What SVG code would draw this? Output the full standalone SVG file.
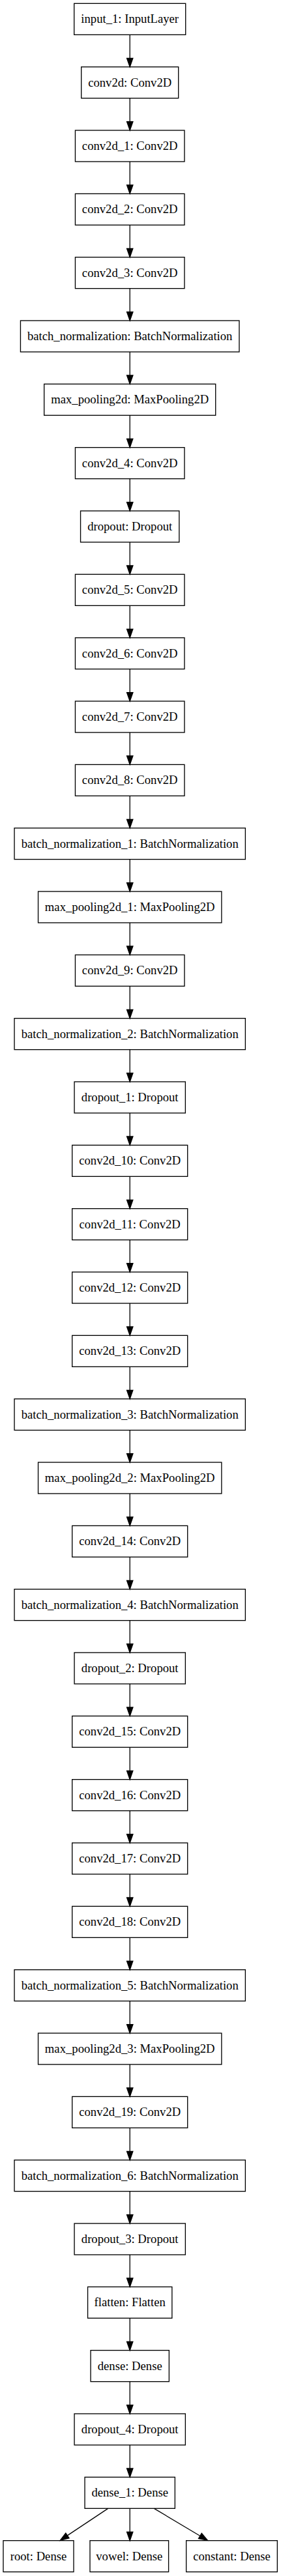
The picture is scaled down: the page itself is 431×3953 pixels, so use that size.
<svg xmlns="http://www.w3.org/2000/svg" width="431" height="3953" viewBox="0 0 431 3953">
<style>
.n rect{fill:#fff;stroke:#000;stroke-width:1.33}
.n text{font-family:"Liberation Serif","Times New Roman",serif;font-size:18.67px;text-anchor:middle;fill:#000}
#edges line{stroke:#000;stroke-width:1.33;marker-end:url(#ah)}
</style>
<defs>
<marker id="ah" markerUnits="userSpaceOnUse" viewBox="0 0 13.33 9.33" refX="0" refY="4.67" markerWidth="13.33" markerHeight="9.33" orient="auto" overflow="visible">
<path d="M0,0 L13.33,4.67 L0,9.33 z" fill="#000" stroke="#000" stroke-width="1.33"/>
</marker>
</defs>
<rect width="431" height="3953" fill="#fff"/>
<g id="n0" class="n"><rect x="113.7" y="5.33" width="171" height="48"/><text x="199.2" y="35.33">input_1: InputLayer</text></g>
<g id="n1" class="n"><rect x="124.7" y="102.67" width="149" height="48"/><text x="199.2" y="132.67">conv2d: Conv2D</text></g>
<g id="n2" class="n"><rect x="115.45" y="200" width="167.5" height="48"/><text x="199.2" y="230">conv2d_1: Conv2D</text></g>
<g id="n3" class="n"><rect x="115.45" y="297.33" width="167.5" height="48"/><text x="199.2" y="327.33">conv2d_2: Conv2D</text></g>
<g id="n4" class="n"><rect x="115.45" y="394.67" width="167.5" height="48"/><text x="199.2" y="424.67">conv2d_3: Conv2D</text></g>
<g id="n5" class="n"><rect x="31.45" y="492" width="335.5" height="48"/><text x="199.2" y="522">batch_normalization: BatchNormalization</text></g>
<g id="n6" class="n"><rect x="67.7" y="589.33" width="263" height="48"/><text x="199.2" y="619.33">max_pooling2d: MaxPooling2D</text></g>
<g id="n7" class="n"><rect x="115.45" y="686.67" width="167.5" height="48"/><text x="199.2" y="716.67">conv2d_4: Conv2D</text></g>
<g id="n8" class="n"><rect x="123.55" y="784" width="151.3" height="48"/><text x="199.2" y="814">dropout: Dropout</text></g>
<g id="n9" class="n"><rect x="115.45" y="881.33" width="167.5" height="48"/><text x="199.2" y="911.33">conv2d_5: Conv2D</text></g>
<g id="n10" class="n"><rect x="115.45" y="978.67" width="167.5" height="48"/><text x="199.2" y="1008.67">conv2d_6: Conv2D</text></g>
<g id="n11" class="n"><rect x="115.45" y="1076" width="167.5" height="48"/><text x="199.2" y="1106">conv2d_7: Conv2D</text></g>
<g id="n12" class="n"><rect x="115.45" y="1173.33" width="167.5" height="48"/><text x="199.2" y="1203.33">conv2d_8: Conv2D</text></g>
<g id="n13" class="n"><rect x="22.05" y="1270.67" width="354.3" height="48"/><text x="199.2" y="1300.67">batch_normalization_1: BatchNormalization</text></g>
<g id="n14" class="n"><rect x="58.55" y="1368" width="281.3" height="48"/><text x="199.2" y="1398">max_pooling2d_1: MaxPooling2D</text></g>
<g id="n15" class="n"><rect x="115.45" y="1465.33" width="167.5" height="48"/><text x="199.2" y="1495.33">conv2d_9: Conv2D</text></g>
<g id="n16" class="n"><rect x="22.05" y="1562.67" width="354.3" height="48"/><text x="199.2" y="1592.67">batch_normalization_2: BatchNormalization</text></g>
<g id="n17" class="n"><rect x="114.05" y="1660" width="170.3" height="48"/><text x="199.2" y="1690">dropout_1: Dropout</text></g>
<g id="n18" class="n"><rect x="110.7" y="1757.33" width="177" height="48"/><text x="199.2" y="1787.33">conv2d_10: Conv2D</text></g>
<g id="n19" class="n"><rect x="110.7" y="1854.67" width="177" height="48"/><text x="199.2" y="1884.67">conv2d_11: Conv2D</text></g>
<g id="n20" class="n"><rect x="110.7" y="1952" width="177" height="48"/><text x="199.2" y="1982">conv2d_12: Conv2D</text></g>
<g id="n21" class="n"><rect x="110.7" y="2049.33" width="177" height="48"/><text x="199.2" y="2079.33">conv2d_13: Conv2D</text></g>
<g id="n22" class="n"><rect x="22.05" y="2146.67" width="354.3" height="48"/><text x="199.2" y="2176.67">batch_normalization_3: BatchNormalization</text></g>
<g id="n23" class="n"><rect x="58.55" y="2244" width="281.3" height="48"/><text x="199.2" y="2274">max_pooling2d_2: MaxPooling2D</text></g>
<g id="n24" class="n"><rect x="110.7" y="2341.33" width="177" height="48"/><text x="199.2" y="2371.33">conv2d_14: Conv2D</text></g>
<g id="n25" class="n"><rect x="22.05" y="2438.67" width="354.3" height="48"/><text x="199.2" y="2468.67">batch_normalization_4: BatchNormalization</text></g>
<g id="n26" class="n"><rect x="114.05" y="2536" width="170.3" height="48"/><text x="199.2" y="2566">dropout_2: Dropout</text></g>
<g id="n27" class="n"><rect x="110.7" y="2633.33" width="177" height="48"/><text x="199.2" y="2663.33">conv2d_15: Conv2D</text></g>
<g id="n28" class="n"><rect x="110.7" y="2730.67" width="177" height="48"/><text x="199.2" y="2760.67">conv2d_16: Conv2D</text></g>
<g id="n29" class="n"><rect x="110.7" y="2828" width="177" height="48"/><text x="199.2" y="2858">conv2d_17: Conv2D</text></g>
<g id="n30" class="n"><rect x="110.7" y="2925.33" width="177" height="48"/><text x="199.2" y="2955.33">conv2d_18: Conv2D</text></g>
<g id="n31" class="n"><rect x="22.05" y="3022.67" width="354.3" height="48"/><text x="199.2" y="3052.67">batch_normalization_5: BatchNormalization</text></g>
<g id="n32" class="n"><rect x="58.55" y="3120" width="281.3" height="48"/><text x="199.2" y="3150">max_pooling2d_3: MaxPooling2D</text></g>
<g id="n33" class="n"><rect x="110.7" y="3217.33" width="177" height="48"/><text x="199.2" y="3247.33">conv2d_19: Conv2D</text></g>
<g id="n34" class="n"><rect x="22.05" y="3314.67" width="354.3" height="48"/><text x="199.2" y="3344.67">batch_normalization_6: BatchNormalization</text></g>
<g id="n35" class="n"><rect x="114.05" y="3412" width="170.3" height="48"/><text x="199.2" y="3442">dropout_3: Dropout</text></g>
<g id="n36" class="n"><rect x="134.55" y="3509.33" width="129.3" height="48"/><text x="199.2" y="3539.33">flatten: Flatten</text></g>
<g id="n37" class="n"><rect x="139.05" y="3606.67" width="120.3" height="48"/><text x="199.2" y="3636.67">dense: Dense</text></g>
<g id="n38" class="n"><rect x="114.05" y="3704" width="170.3" height="48"/><text x="199.2" y="3734">dropout_4: Dropout</text></g>
<g id="n39" class="n"><rect x="130.05" y="3801.33" width="138.3" height="48"/><text x="199.2" y="3831.33">dense_1: Dense</text></g>
<g id="n40" class="n"><rect x="5" y="3898.67" width="108" height="48"/><text x="59" y="3928.67">root: Dense</text></g>
<g id="n41" class="n"><rect x="138" y="3898.67" width="120.6" height="48"/><text x="198.3" y="3928.67">vowel: Dense</text></g>
<g id="n42" class="n"><rect x="285.65" y="3898.67" width="139.7" height="48"/><text x="355.5" y="3928.67">constant: Dense</text></g>
<g id="edges">
<line x1="199.2" y1="53.33" x2="199.2" y2="89.33"/>
<line x1="199.2" y1="150.67" x2="199.2" y2="186.67"/>
<line x1="199.2" y1="248" x2="199.2" y2="284"/>
<line x1="199.2" y1="345.33" x2="199.2" y2="381.33"/>
<line x1="199.2" y1="442.67" x2="199.2" y2="478.67"/>
<line x1="199.2" y1="540" x2="199.2" y2="576"/>
<line x1="199.2" y1="637.33" x2="199.2" y2="673.33"/>
<line x1="199.2" y1="734.67" x2="199.2" y2="770.67"/>
<line x1="199.2" y1="832" x2="199.2" y2="868"/>
<line x1="199.2" y1="929.33" x2="199.2" y2="965.33"/>
<line x1="199.2" y1="1026.67" x2="199.2" y2="1062.67"/>
<line x1="199.2" y1="1124" x2="199.2" y2="1160"/>
<line x1="199.2" y1="1221.33" x2="199.2" y2="1257.33"/>
<line x1="199.2" y1="1318.67" x2="199.2" y2="1354.67"/>
<line x1="199.2" y1="1416" x2="199.2" y2="1452"/>
<line x1="199.2" y1="1513.33" x2="199.2" y2="1549.33"/>
<line x1="199.2" y1="1610.67" x2="199.2" y2="1646.67"/>
<line x1="199.2" y1="1708" x2="199.2" y2="1744"/>
<line x1="199.2" y1="1805.33" x2="199.2" y2="1841.33"/>
<line x1="199.2" y1="1902.67" x2="199.2" y2="1938.67"/>
<line x1="199.2" y1="2000" x2="199.2" y2="2036"/>
<line x1="199.2" y1="2097.33" x2="199.2" y2="2133.33"/>
<line x1="199.2" y1="2194.67" x2="199.2" y2="2230.67"/>
<line x1="199.2" y1="2292" x2="199.2" y2="2328"/>
<line x1="199.2" y1="2389.33" x2="199.2" y2="2425.33"/>
<line x1="199.2" y1="2486.67" x2="199.2" y2="2522.67"/>
<line x1="199.2" y1="2584" x2="199.2" y2="2620"/>
<line x1="199.2" y1="2681.33" x2="199.2" y2="2717.33"/>
<line x1="199.2" y1="2778.67" x2="199.2" y2="2814.67"/>
<line x1="199.2" y1="2876" x2="199.2" y2="2912"/>
<line x1="199.2" y1="2973.33" x2="199.2" y2="3009.33"/>
<line x1="199.2" y1="3070.67" x2="199.2" y2="3106.67"/>
<line x1="199.2" y1="3168" x2="199.2" y2="3204"/>
<line x1="199.2" y1="3265.33" x2="199.2" y2="3301.33"/>
<line x1="199.2" y1="3362.67" x2="199.2" y2="3398.67"/>
<line x1="199.2" y1="3460" x2="199.2" y2="3496"/>
<line x1="199.2" y1="3557.33" x2="199.2" y2="3593.33"/>
<line x1="199.2" y1="3654.67" x2="199.2" y2="3690.67"/>
<line x1="199.2" y1="3752" x2="199.2" y2="3788"/>
<line x1="199.2" y1="3849.33" x2="199.2" y2="3885.33"/>
<line x1="165.7" y1="3849.33" x2="103.4" y2="3890.9"/>
<line x1="236.3" y1="3849.33" x2="306.9" y2="3891.5"/>
</g>
</svg>
